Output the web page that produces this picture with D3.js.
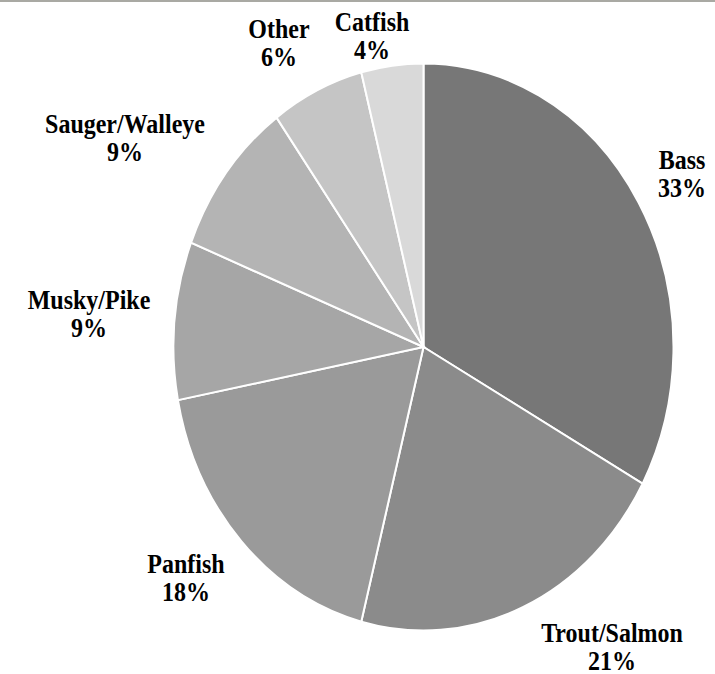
<!DOCTYPE html>
<html>
<head>
<meta charset="utf-8">
<script src="https://cdn.jsdelivr.net/npm/d3@7"></script>
<style>
  html, body { margin: 0; padding: 0; background: #fff; }
  svg { display: block; }
</style>
</head>
<body>
<svg id="chart" width="715" height="674"></svg>
<script>
// Share of anglers by species group (percent)
const categories = ["Bass", "Trout/Salmon", "Panfish", "Musky/Pike", "Sauger/Walleye", "Other", "Catfish"];
const values = [33, 21, 18, 9, 9, 6, 4];
const colors = ["#777777", "#8b8b8b", "#9a9a9a", "#a6a6a6", "#b4b4b4", "#c5c5c5", "#d9d9d9"];
// label anchor (centre of first line) for each slice
const labelPos = [[682, 160], [612, 633], [186, 564], [89, 300], [125, 124], [279, 29], [372, 22]];

const W = 715, H = 674;
const cx = 423.5, cy = 347, rx = 250, ry = 283.5;
const fontStack = "'Liberation Serif', Tinos, 'Times New Roman', 'DejaVu Serif', serif";

const svg = d3.select("#chart");

// thin rule along the top edge
svg.append("rect").attr("x", 0).attr("y", 0).attr("width", W).attr("height", 2).attr("fill", "#a9a9a3");

const data = categories.map((c, i) => ({ name: c, value: values[i], color: colors[i] }));

const pie = d3.pie().value(d => d.value).sort(null);
const arc = d3.arc().innerRadius(0).outerRadius(rx);

const g = svg.append("g")
  .attr("transform", `translate(${cx},${cy}) scale(1,${ry / rx})`);

g.selectAll("path")
  .data(pie(data))
  .join("path")
  .attr("d", arc)
  .attr("fill", d => d.data.color)
  .attr("stroke", "#fff")
  .attr("stroke-width", 2)
  .attr("vector-effect", "non-scaling-stroke");

// two-line labels: name and percentage
const lineGap = 25;
const labels = svg.selectAll("g.label")
  .data(data)
  .join("g")
  .attr("class", "label")
  .attr("transform", (d, i) => `translate(${labelPos[i][0]},${labelPos[i][1]}) scale(1,1.1)`);

labels.append("text")
  .attr("font-family", fontStack)
  .attr("font-weight", "bold")
  .attr("font-size", 24)
  .attr("fill", "#000")
  .attr("text-anchor", "middle")
  .attr("dy", "0.35em")
  .text(d => d.name);

labels.append("text")
  .attr("font-family", fontStack)
  .attr("font-weight", "bold")
  .attr("font-size", 24)
  .attr("fill", "#000")
  .attr("text-anchor", "middle")
  .attr("y", lineGap)
  .attr("dy", "0.35em")
  .text(d => d.value + "%");
</script>
</body>
</html>
